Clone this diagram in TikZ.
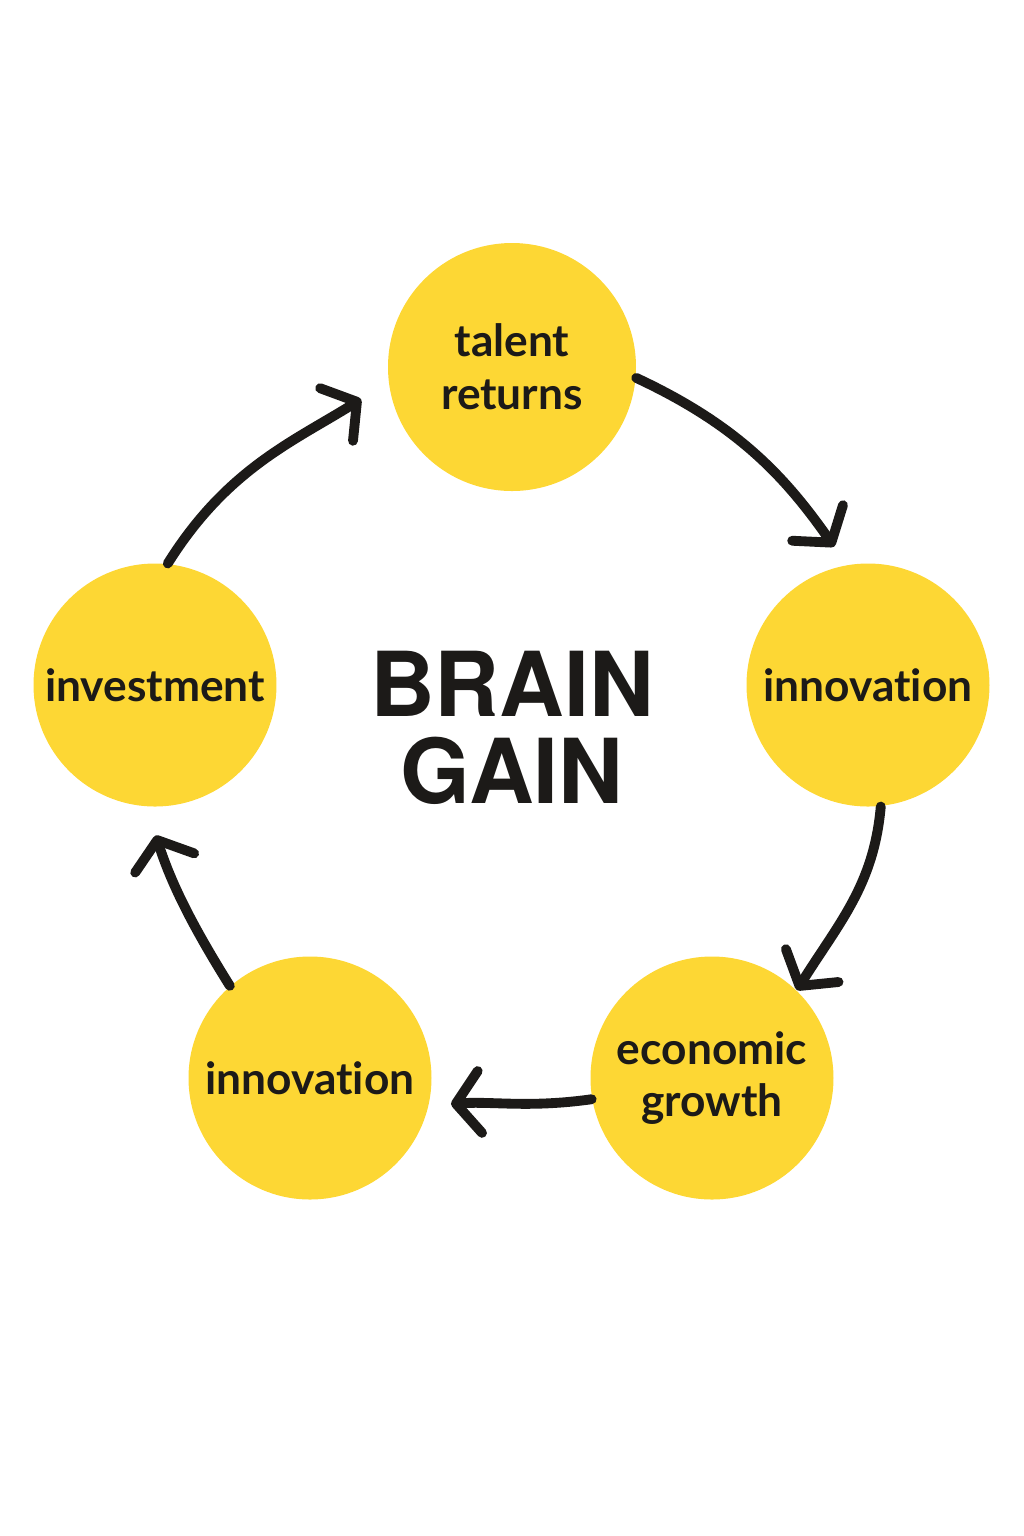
\documentclass[tikz,border=0pt]{standalone}
\usepackage{fontspec}
\setmainfont{Lato}[Ligatures=NoCommon]
\newfontfamily\titlefont{TeX Gyre Heros}
\usetikzlibrary{arrows.meta}
\definecolor{gainyellow}{RGB}{253,215,52}
\definecolor{ink}{RGB}{28,26,24}
\tikzset{
	stage/.style = {circle, fill=gainyellow, inner sep=0pt, minimum size=24.3mm,
		align=center, text=ink, font=\fontsize{12.6}{15}\selectfont\bfseries},
	cyc/.style = {draw=ink, line width=2.8pt, line cap=round,
		-{Straight Barb[length=2.4mm, width=6.2mm, line width=2.8pt, round]}}
}
\begin{document}
\begin{tikzpicture}[x=0.1mm, y=-0.1mm]
			\useasboundingbox (0,0) rectangle (1024,1536);
			\node[stage, minimum size=24.8mm] (tr) at (512,367) {talent\\returns};
			\node[stage] (inr) at (868,685) {innovation};
			\node[stage] (eg) at (712,1078) {economic\\growth};
			\node[stage] (inl) at (310,1078) {innovation};
			\node[stage] (inv) at (155,685) {investment};
			
			% centre title
			\node[text=ink, align=center, font=\titlefont\fontsize{25.5}{24.7}\selectfont\bfseries] (title) at (512,728) {BRAIN\\GAIN};
			
			% cycle
			\draw[cyc, shorten >=2.2mm] (tr.-5) to[out=-25, in=125] (inr.100);
			\draw[cyc] (inr.-84) to[out=-95, in=58] (eg.46);
			\draw[cyc, shorten >=2.2mm] (eg.190) to[out=188, in=4] (inl.-13);
			\draw[cyc, shorten >=3mm] (inl.131) to[out=122, in=-72] (inv.-94);
			\draw[cyc, shorten >=3.2mm] (inv.84) to[out=58, in=212] (tr.187);
		\end{tikzpicture}
\end{document}
